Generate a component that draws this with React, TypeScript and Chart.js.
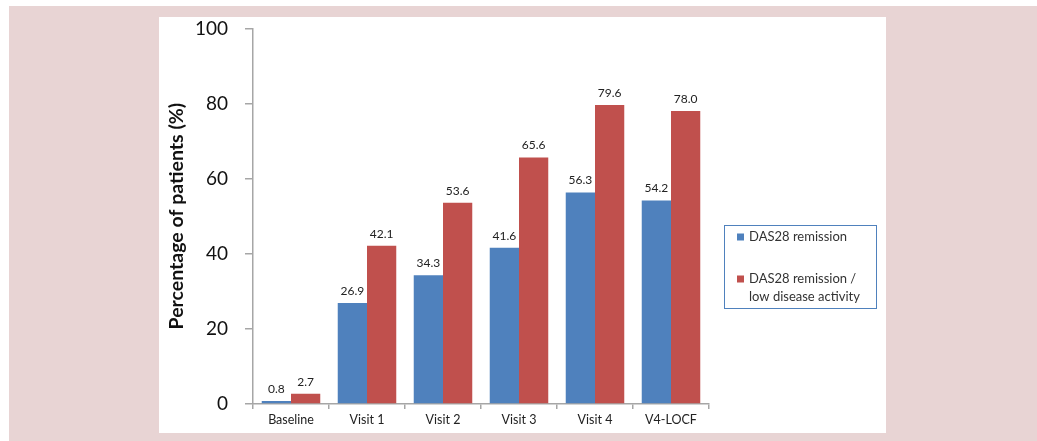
import React, { useEffect, useRef } from "react";
import { Chart, registerables } from "chart.js";

Chart.register(...registerables);

const categories = ["Baseline", "Visit 1", "Visit 2", "Visit 3", "Visit 4", "V4-LOCF"];
const remission = [0.8, 26.9, 34.3, 41.6, 56.3, 54.2];
const remissionLow = [2.7, 42.1, 53.6, 65.6, 79.6, 78.0];
const seriesLabels = [["DAS28 remission"], ["DAS28 remission /", "low disease activity"]];
const yTitle = "Percentage of patients (%)";

const BLUE = "#4F81BD";
const RED = "#C0504D";
const FONT = "Lato, 'Open Sans', sans-serif";
const SHIFT = 17;

const valueLabels = {
  id: "valueLabels",
  afterDatasetsDraw(chart: any) {
    const ctx = chart.ctx;
    ctx.save();
    ctx.font = `12px ${FONT}`;
    ctx.fillStyle = "#222";
    ctx.textAlign = "center";
    ctx.textBaseline = "bottom";
    chart.data.datasets.forEach((ds: any, di: number) => {
      const meta = chart.getDatasetMeta(di);
      meta.data.forEach((bar: any, i: number) => {
        ctx.fillText(Number(ds.data[i]).toFixed(1), bar.x, bar.y - 6);
      });
    });
    ctx.restore();
  },
};

const boxLegend = {
  id: "boxLegend",
  afterDraw(chart: any) {
    const ctx = chart.ctx;
    ctx.save();
    const bx = 565.5, by = 208.5 + SHIFT, bw = 152, bh = 83;
    ctx.strokeStyle = "#4F81BD";
    ctx.lineWidth = 1;
    ctx.strokeRect(bx, by, bw, bh);
    ctx.font = `13px ${FONT}`;
    ctx.fillStyle = "#333";
    ctx.textAlign = "left";
    ctx.textBaseline = "middle";
    const rows = [220 + SHIFT, 262 + SHIFT];
    chart.data.datasets.forEach((ds: any, di: number) => {
      const y = rows[di];
      ctx.fillStyle = ds.backgroundColor;
      ctx.fillRect(578, y - 3.5, 7, 7);
      ctx.fillStyle = "#333";
      (ds.legendLines as string[]).forEach((line, li) => {
        ctx.fillText(line, 590, y + li * 18);
      });
    });
    ctx.restore();
  },
};

export default function App() {
  const ref = useRef<HTMLCanvasElement>(null);
  useEffect(() => {
    if (!ref.current) return;
    const chart = new Chart(ref.current, {
      type: "bar",
      data: {
        labels: categories,
        datasets: [
          { label: seriesLabels[0].join(" "), legendLines: seriesLabels[0], data: remission, backgroundColor: BLUE, borderWidth: 0, barPercentage: 1, categoryPercentage: 0.77 } as any,
          { label: seriesLabels[1].join(" "), legendLines: seriesLabels[1], data: remissionLow, backgroundColor: RED, borderWidth: 0, barPercentage: 1, categoryPercentage: 0.77 } as any,
        ],
      },
      options: {
        responsive: false,
        animation: false,
        layout: { padding: { top: 0, right: 177, left: 0, bottom: 0 } },
        plugins: { legend: { display: false }, tooltip: { enabled: false } },
        scales: {
          x: {
            afterFit: (s: any) => { s.height = 29; },
            grid: { drawOnChartArea: false, drawTicks: true, tickLength: 5, color: "#A6A6A6", lineWidth: 1.5 },
            border: { display: true, color: "#A6A6A6", width: 1.5 },
            ticks: { color: "#222", font: { family: FONT, size: 12.5 }, padding: 3 },
          },
          y: {
            min: 0,
            max: 100,
            afterFit: (s: any) => { s.width = 94; },
            grid: { drawOnChartArea: false, drawTicks: true, tickLength: 8, color: "#A6A6A6", lineWidth: 1.5 },
            border: { display: true, color: "#A6A6A6", width: 1.5 },
            ticks: { stepSize: 20, color: "#111", font: { family: FONT, size: 19 }, padding: 17 },
            title: { display: true, text: yTitle, color: "#111", font: { family: FONT, size: 19.5, weight: "bold" }, padding: { top: 6, bottom: 0 } },
          },
        },
      },
      plugins: [valueLabels, boxLegend],
    });
    return () => chart.destroy();
  }, []);

  return (
    <div style={{ position: "fixed", left: 9, top: 6, right: 0, bottom: 0, background: "#E8D4D4" }}>
      <div style={{ position: "absolute", left: 150, top: 11, width: 727, height: 416, background: "#fff", overflow: "hidden" }}>
        <canvas ref={ref} width={727} height={416 + SHIFT} style={{ display: "block", marginTop: -SHIFT }} />
      </div>
    </div>
  );
}
